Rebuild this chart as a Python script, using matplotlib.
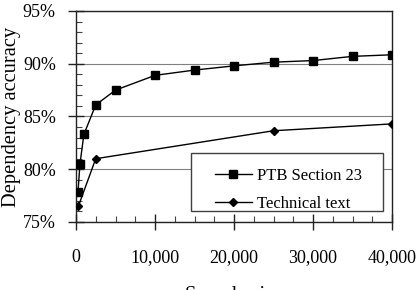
import matplotlib
matplotlib.use("Agg")
import matplotlib.pyplot as plt
from matplotlib.ticker import MultipleLocator, FuncFormatter
from matplotlib.patches import Rectangle

plt.rcParams['font.family'] = ['Liberation Serif', 'DejaVu Serif']

ptb_x = [250, 500, 1000, 2500, 5000, 10000, 15000, 20000, 25000, 30000, 35000, 40000]
ptb_y = [77.8, 80.5, 83.3, 86.1, 87.5, 88.9, 89.4, 89.8, 90.15, 90.3, 90.7, 90.85]
tech_x = [300, 2500, 25000, 40000]
tech_y = [76.5, 81.0, 83.65, 84.3]
series_names = ["PTB Section 23", "Technical text"]
x_label = "Sample size"
y_label = "Dependency accuracy"

fig = plt.figure(figsize=(4.19, 2.90), dpi=100)
ax = fig.add_axes([76/419, 1-222/290, (392-76)/419, (222-11)/290])

ax.plot(ptb_x, ptb_y, color='black', lw=1.0, marker='s', ms=5.5, zorder=3, label=series_names[0])
ax.plot(tech_x, tech_y, color='black', lw=1.0, marker='D', ms=4.5, zorder=3, label=series_names[1])

ax.set_xlim(0, 40000)
ax.set_ylim(75, 95)
ax.xaxis.set_major_locator(MultipleLocator(10000))
ax.xaxis.set_minor_locator(MultipleLocator(2500))
ax.yaxis.set_major_locator(MultipleLocator(5))
ax.yaxis.set_minor_locator(MultipleLocator(1))
ax.xaxis.set_major_formatter(FuncFormatter(lambda v, p: f"{int(v):,}"))
ax.yaxis.set_major_formatter(FuncFormatter(lambda v, p: f"{int(v)}%"))

ax.tick_params(axis='both', which='major', direction='inout', length=11, width=1, labelsize=13, color='#222222')
ax.tick_params(axis='x', which='major', pad=14)
ax.tick_params(axis='y', which='major', pad=9)
ax.tick_params(axis='both', which='minor', direction='in', length=4, width=0.8, color='#444444')
ax.tick_params(top=False, right=False, which='both')

ax.yaxis.grid(True, which='major', color='#808080', lw=0.8)
ax.set_axisbelow(True)
for s in ax.spines.values():
    s.set_linewidth(1.0)
    s.set_color('#222222')

ax.set_ylabel(y_label, fontsize=14.8, labelpad=1)
ax.set_xlabel(x_label, fontsize=14.8, labelpad=14)

# legend frame
ax.add_patch(Rectangle((0.364, 0.052), 0.607, 0.275, transform=ax.transAxes,
                       facecolor='white', edgecolor='#404040', lw=1.0, zorder=4))
leg = ax.legend(loc='upper left', bbox_to_anchor=(0.392, 0.327), frameon=False,
                fontsize=12, borderpad=0.4, handlelength=2.2, handletextpad=0.3,
                labelspacing=0.7)
leg.set_zorder(5)

fig.savefig("out.png", dpi=100)
